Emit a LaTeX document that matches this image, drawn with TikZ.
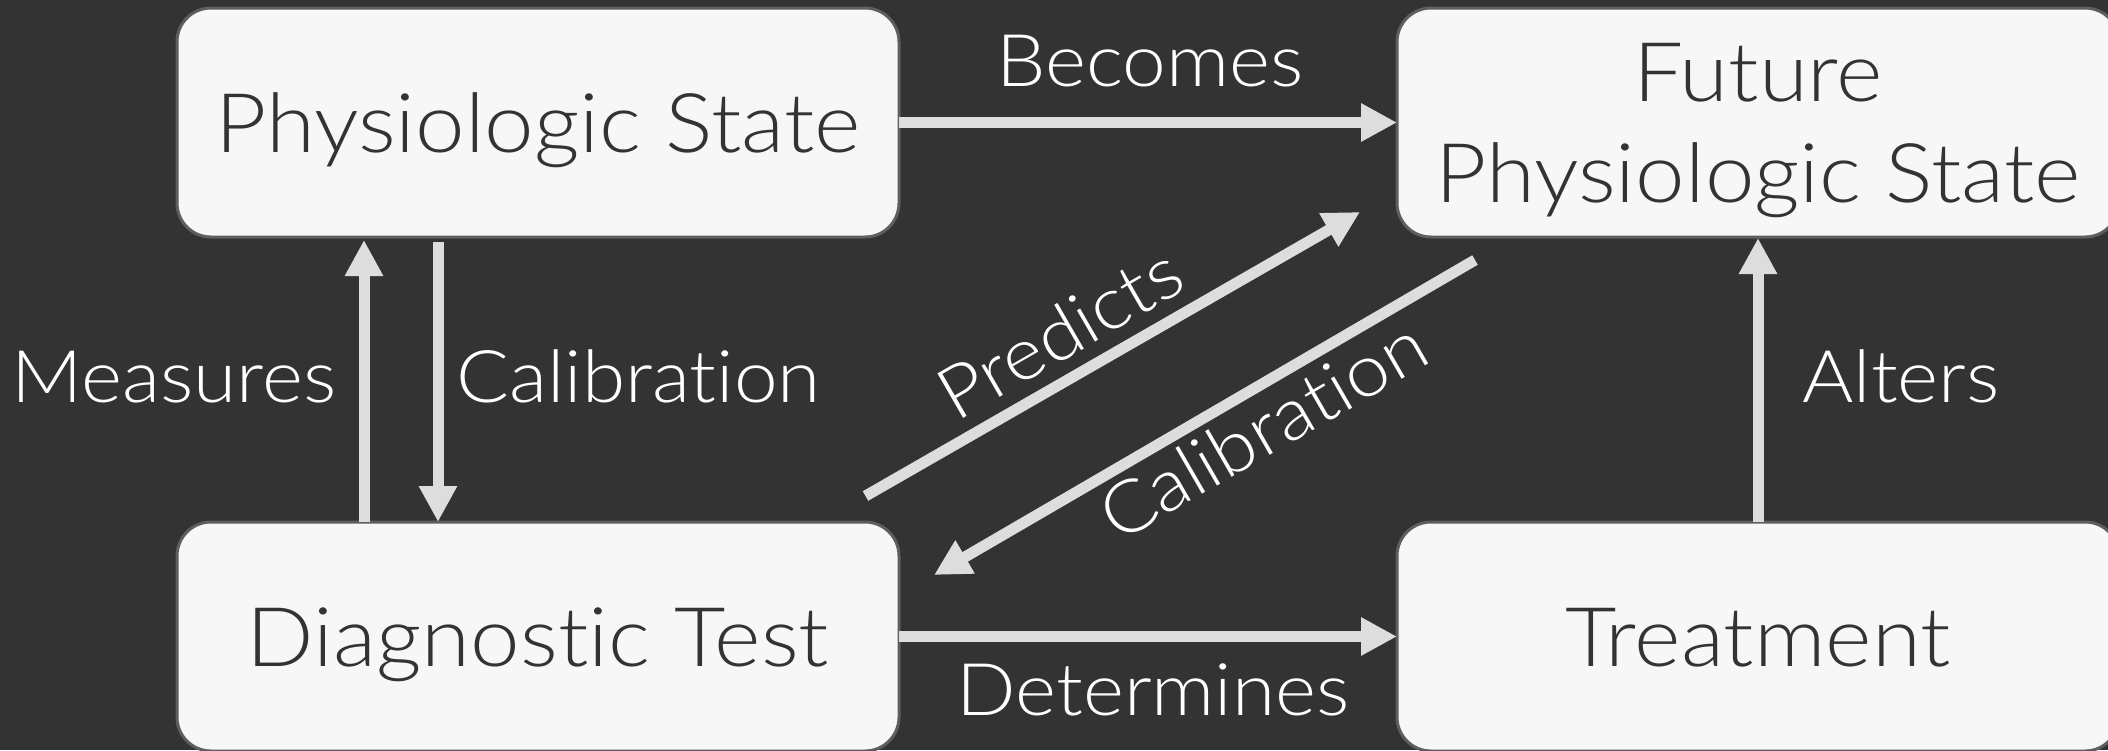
\documentclass[tikz,border=0pt]{standalone}
\usepackage{fontspec}
\IfFontExistsTF{Lato Light}{\setmainfont{Lato Light}[Ligatures=NoCommon,FakeStretch=1.08]}{%
  \IfFontExistsTF{Lato-Light.ttf}{\setmainfont{Lato-Light.ttf}[Ligatures=NoCommon,FakeStretch=1.08]}{%
    \IfFontExistsTF{Fira Sans Light}{\setmainfont{Fira Sans Light}}{\setmainfont{Lato}}}}
\usetikzlibrary{arrows.meta,calc}
\definecolor{bgdark}{HTML}{333333}
\definecolor{boxfill}{HTML}{F7F7F7}
\definecolor{boxline}{HTML}{5E5E5E}
\definecolor{boxtext}{HTML}{333333}
\definecolor{arrowgray}{HTML}{DDDDDD}
\newcommand\diagboxfont{\fontsize{82.3pt}{101.3pt}\selectfont}
\newcommand\diaglabelfont{\fontsize{72.6pt}{87pt}\selectfont}

\begin{document}
\begin{tikzpicture}[x=1pt,y=-1pt,
  box/.style={draw=boxline, line width=3pt, fill=boxfill, rounded corners=34pt,
    minimum width=722pt, minimum height=229pt, inner sep=0pt, outer sep=0pt,
    text=boxtext, font=\diagboxfont, text height=59pt, text depth=0pt},
  link/.style={draw=arrowgray, line width=11pt, -{Triangle[length=36pt,width=36pt]}},
  lab/.style={text=white, font=\diaglabelfont, inner sep=0pt, anchor=base}]
\fill[bgdark] (0,0) rectangle (2108,750);
\useasboundingbox (0,0) rectangle (2108,750);

% the four states
\node[box] (ps) at (538,122.5) {Physiologic State};
\node[box, align=center, text height=160.3pt] (fps) at (1758,122.5) {Future\\Physiologic State};
\node[box] (dt) at (538,636.5) {Diagnostic Test};
\node[box] (tr) at (1758,636.5) {Treatment};

% connectors
\draw[link] (ps.east) -- (fps.west);
\draw[link] (dt.east) -- (tr.west);
\draw[link] ($(dt.north)+(-174,0)$) -- ($(ps.south)+(-174,3)$);
\draw[link] ($(ps.south)+(-100,5)$) -- ($(dt.north)+(-100,0)$);
\draw[link] (tr.north) -- ($(fps.south)+(0,1)$);
\draw[link] ($(dt.north east)+(-33.5,-26)$) -- ($(fps.south west)+(-37,-25)$);
\draw[link] ($(fps.south west)+(78,23)$) -- ($(dt.north east)+(35,53)$);

% connector labels
\node[lab] (becomes) at (1150,86.7) {Becomes};
\node[lab] (measures) at (174,402.7) {Measures};
\node[lab] (calibv) at (638.5,402.7) {Calibration};
\node[lab] (alters) at (1901,402.7) {Alters};
\node[lab] (determines) at (1153,715) {Determines};
\node[lab, rotate=30] (predicts) at (1072.5,355.4) {Predicts};
\node[lab, rotate=30] (calibd) at (1275.9,452.3) {Calibration};
\end{tikzpicture}
\end{document}
